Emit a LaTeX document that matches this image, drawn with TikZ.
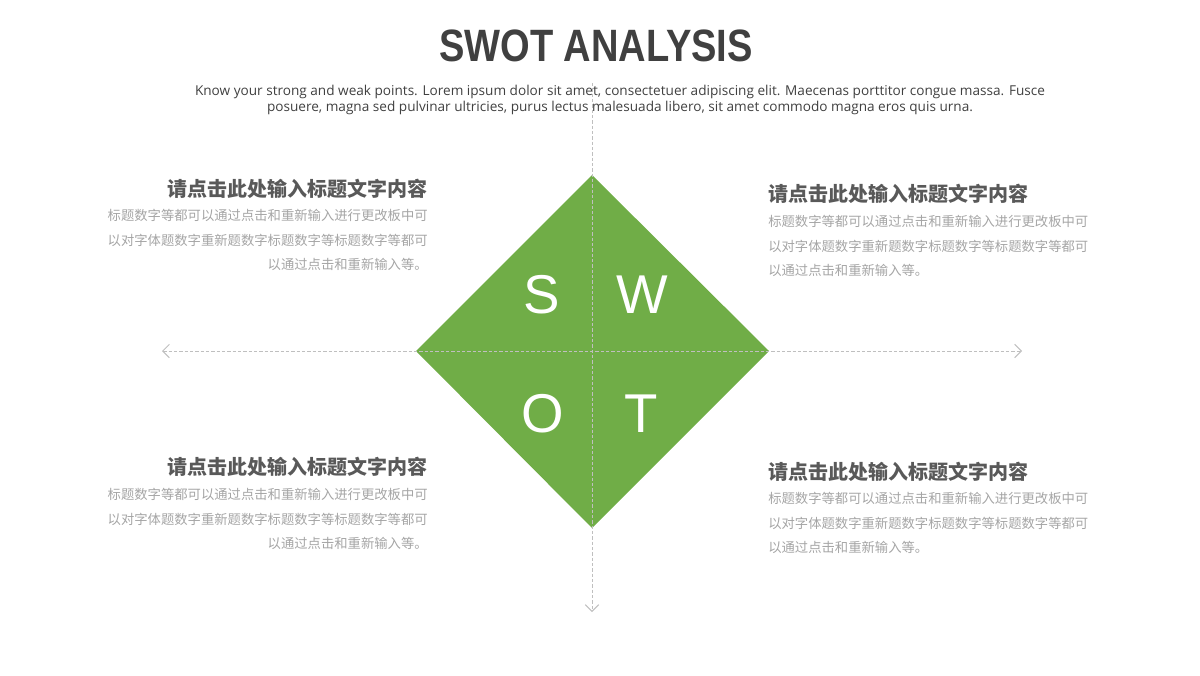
\documentclass[tikz,border=0pt]{standalone}
\usepackage{fontspec}
\setmainfont{Liberation Sans}
\newfontfamily\cjk{Noto Sans CJK SC}
\newfontfamily\intro{Open Sans}
\usetikzlibrary{arrows.meta,positioning}

\definecolor{swotgreen}{HTML}{70AD47}
\definecolor{titlegray}{HTML}{404040}
\definecolor{headgray}{HTML}{595959}
\definecolor{bodygray}{HTML}{A5A5A5}
\definecolor{axisgray}{HTML}{BFBFBF}

\newcommand{\headtext}{请点击此处输入标题文字内容}

\begin{document}
\begin{tikzpicture}[x=0.75pt,y=-0.75pt]
    \tikzset{axis/.style    = {draw=axisgray,
        line width      = 0.75pt,
        dash pattern    = on 2.5pt off 1.5pt,
        arrows          = {-Straight Barb[length=5pt,width=10pt]}
        },
        letter/.style   = {text=white, inner sep=0pt,
        font=\fontsize{41}{41}\selectfont},
        heading/.style  = {text=headgray, inner sep=0pt,
        font=\cjk\bfseries\fontsize{15}{18}\selectfont},
        body/.style     = {text=bodygray, inner sep=0pt,
        font=\cjk\fontsize{10}{18.4}\selectfont}}

    \useasboundingbox (0,0) rectangle (1200,675);

    \def\Lx{428};
    \def\Rx{768};

    % Title and intro text.
    \node[text=titlegray, font=\bfseries\fontsize{34}{34}\selectfont]
        (title) at (596,46) {\scalebox{0.84}[1]{SWOT ANALYSIS}};
    \node[text=titlegray, align=center, inner sep=0pt,
        font=\intro\fontsize{10.2}{12}\selectfont] (intro) at (620,100)
        {Know your strong and weak points. Lorem ipsum dolor sit amet, consectetuer adipiscing elit. Maecenas porttitor congue massa. Fusce\\
        posuere, magna sed pulvinar ultricies, purus lectus malesuada libero, sit amet commodo magna eros quis urna.};

    % The diamond.
    \coordinate (top) at (592,175);
    \coordinate (rgt) at (769,351);
    \coordinate (bot) at (592,528);
    \coordinate (lft) at (416,351);
    \fill[swotgreen] (top) -- (rgt) -- (bot) -- (lft) -- cycle;

    \node[letter] (S) at (542,295) {S};
    \node[letter] (W) at (642,295) {W};
    \node[letter] (O) at (543,414) {O};
    \node[letter] (T) at (641,414) {T};

    % Draw the axes.
    \coordinate (hl) at (162,351);
    \coordinate (hr) at (1022,351);
    \coordinate (vt) at (592,83);
    \coordinate (vb) at (592,612);
    \draw[axis, arrows={Straight Barb[length=5pt,width=10pt]-Straight Barb[length=5pt,width=10pt]}] (hl) -- (hr);
    \draw[axis] (vt) -- (vb);

    % Strengths, top left.
    \node[heading, anchor=base east] (sHead) at (\Lx,196) {\headtext};
    \node[body, anchor=north east, align=right] (sBody) at (\Lx,209)
        {标题数字等都可以通过点击和重新输入进行更改板中可\\
        以对字体题数字重新题数字标题数字等标题数字等都可\\
        以通过点击和重新输入等。};

    % Weaknesses, top right.
    \node[heading, anchor=base west] (wHead) at (\Rx,201) {\headtext};
    \node[body, anchor=north west, align=left] (wBody) at (\Rx,215)
        {标题数字等都可以通过点击和重新输入进行更改板中可\\
        以对字体题数字重新题数字标题数字等标题数字等都可\\
        以通过点击和重新输入等。};

    % Opportunities, bottom left.
    \node[heading, anchor=base east] (oHead) at (\Lx,474) {\headtext};
    \node[body, anchor=north east, align=right] (oBody) at (\Lx,488)
        {标题数字等都可以通过点击和重新输入进行更改板中可\\
        以对字体题数字重新题数字标题数字等标题数字等都可\\
        以通过点击和重新输入等。};

    % Threats, bottom right.
    \node[heading, anchor=base west] (tHead) at (\Rx,479) {\headtext};
    \node[body, anchor=north west, align=left] (tBody) at (\Rx,492)
        {标题数字等都可以通过点击和重新输入进行更改板中可\\
        以对字体题数字重新题数字标题数字等标题数字等都可\\
        以通过点击和重新输入等。};
\end{tikzpicture}
\end{document}
